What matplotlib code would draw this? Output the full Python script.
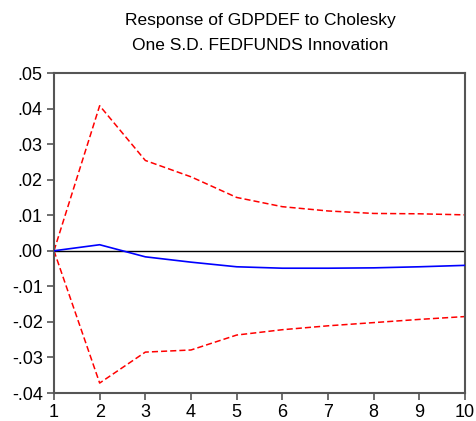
import numpy as np
import matplotlib.pyplot as plt
from matplotlib.ticker import FuncFormatter

plt.rcParams['font.family'] = ['Liberation Sans', 'DejaVu Sans']

periods = [1, 2, 3, 4, 5, 6, 7, 8, 9, 10]
response = [0.0, 0.0017, -0.0017, -0.0032, -0.0045, -0.0049, -0.0049, -0.0048, -0.0045, -0.0041]
upper = [0.0, 0.0408, 0.0254, 0.0208, 0.0150, 0.0124, 0.0112, 0.0105, 0.0104, 0.0101]
lower = [0.0, -0.0372, -0.0285, -0.0279, -0.0237, -0.0222, -0.0211, -0.0202, -0.0193, -0.0185]

fig = plt.figure(figsize=(4.76, 4.21), dpi=100)
ax = fig.add_axes([0.1134, 0.0665, 0.8636, 0.7601])

ax.axhline(0, color='black', lw=1.0, zorder=1)
ax.plot(periods, response, color='blue', lw=1.2, zorder=3)
ax.plot(periods, upper, color='red', lw=1.1, ls=(0, (4, 2)), zorder=2)
ax.plot(periods, lower, color='red', lw=1.1, ls=(0, (4, 2)), zorder=2)

ax.set_xlim(1, 10)
ax.set_ylim(-0.04, 0.05)
ax.set_xticks(periods)
ax.set_yticks(np.arange(-0.04, 0.0501, 0.01))


def fmt(v, pos):
    s = '%.2f' % v
    if s == '-0.00':
        s = '0.00'
    return s.replace('0.', '.', 1)


ax.yaxis.set_major_formatter(FuncFormatter(fmt))
ax.tick_params(direction='out', length=5, width=1.2, color='#555555', labelsize=13, pad=3)
for sp in ax.spines.values():
    sp.set_color('#555555')
    sp.set_linewidth(1.5)

fig.text(0.546, 1 - 20 / 421, 'Response of GDPDEF to Cholesky', ha='center', va='center', fontsize=12.5)
fig.text(0.546, 1 - 45 / 421, 'One S.D. FEDFUNDS Innovation', ha='center', va='center', fontsize=12.5)

fig.savefig('out.png', dpi=100)
